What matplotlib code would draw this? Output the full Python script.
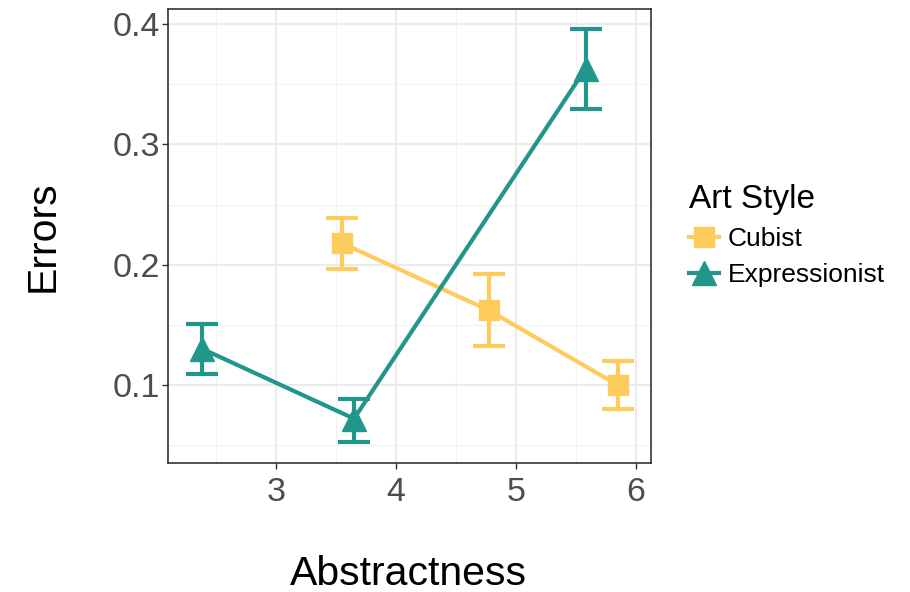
import numpy as np
import matplotlib
matplotlib.use('Agg')
import matplotlib.pyplot as plt
from matplotlib.lines import Line2D

plt.rcParams['font.family'] = ['Liberation Sans', 'DejaVu Sans']

# Mean errors per abstractness level, with upper/lower error bar limits
cubist_x = [3.547, 4.775, 5.847]
cubist_y = [0.218, 0.162, 0.100]
cubist_hi = [0.239, 0.192, 0.120]
cubist_lo = [0.196, 0.132, 0.080]

expr_x = [2.386, 3.650, 5.580]
expr_y = [0.130, 0.072, 0.363]
expr_hi = [0.151, 0.088, 0.396]
expr_lo = [0.109, 0.053, 0.329]

styles = ['Cubist', 'Expressionist']
x_ticks = [3, 4, 5, 6]
y_ticks = [0.1, 0.2, 0.3, 0.4]

col_cub = '#FECB5D'
col_exp = '#21968A'

fig = plt.figure(figsize=(9.1, 5.92), dpi=100)
ax = fig.add_axes([0.185, 0.2184, 0.5304, 0.7664])

series = [
    (cubist_x, cubist_y, cubist_hi, cubist_lo, col_cub, 's', 14),
    (expr_x, expr_y, expr_hi, expr_lo, col_exp, '^', 17),
]
for xs, ys, hi, lo, col, mk, ms in series:
    ys = np.array(ys)
    yerr = [ys - np.array(lo), np.array(hi) - ys]
    ax.errorbar(xs, ys, yerr=yerr, fmt='none', ecolor=col, elinewidth=3,
                capsize=11.5, capthick=3, zorder=3)
    ax.plot(xs, ys, color=col, lw=3, zorder=4)
    ax.plot(xs, ys, ls='none', marker=mk, ms=ms, color=col, zorder=5)

ax.set_xlim(2.1025, 6.125)
ax.set_ylim(0.0354, 0.4125)
ax.set_xticks(x_ticks)
ax.set_yticks(y_ticks)
ax.set_xticks([2.5, 3.5, 4.5, 5.5], minor=True)
ax.set_yticks([0.05, 0.15, 0.25, 0.35], minor=True)
ax.set_xticklabels([str(t) for t in x_ticks])
ax.set_yticklabels([str(t) for t in y_ticks])
ax.grid(which='major', color='#EBEBEB', lw=1.5, zorder=0)
ax.grid(which='minor', color='#F2F2F2', lw=0.8, zorder=0)
ax.set_axisbelow(True)
ax.tick_params(which='major', length=4, width=1, color='#333333',
               labelsize=24.5, labelcolor='#4D4D4D')
ax.tick_params(axis='x', which='major', pad=6)
ax.tick_params(axis='y', which='major', pad=2)
ax.tick_params(which='minor', length=0)
for s in ax.spines.values():
    s.set_color('#333333')
    s.set_linewidth(1.2)

fig.text(0.4487, 0.0118, 'Abstractness', ha='center', va='baseline',
         fontsize=29.5, color='black')
fig.text(0.047, 0.6016, 'Errors', ha='center', va='center', rotation=90,
         fontsize=29.5, color='black')

handles = [
    Line2D([0], [0], color=col_cub, lw=3, marker='s', ms=14),
    Line2D([0], [0], color=col_exp, lw=3, marker='^', ms=17),
]
leg = fig.legend(handles, styles, title='Art Style', loc='upper left',
                 bbox_to_anchor=(0.745, 0.707), frameon=False,
                 fontsize=19, title_fontsize=24, handlelength=1.15,
                 handletextpad=0.35, labelspacing=0.45, borderaxespad=0)
leg._legend_box.align = 'left'

fig.savefig('out.png', dpi=100)
